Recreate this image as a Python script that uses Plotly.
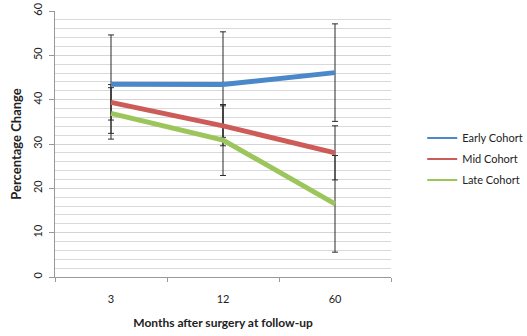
import plotly.graph_objects as go

months = ["3", "12", "60"]
series_names = ["Early Cohort", "Mid Cohort", "Late Cohort"]
early = [43.5, 43.4, 46.1]
mid = [39.4, 34.1, 28.0]
late = [36.9, 30.9, 16.5]
early_err = [11.1, 11.9, 11.0]
mid_err = [4.0, 4.5, 6.1]
late_err = [5.8, 8.0, 10.9]
colors = ["#4A88CA", "#CD5C58", "#9CC65B"]

values = [early, mid, late]
errors = [early_err, mid_err, late_err]

FONT = "Lato, 'Open Sans', Arial, sans-serif"

fig = go.Figure()
# error bars first so the lines sit on top of them
for name, vals, errs in zip(series_names, values, errors):
    fig.add_trace(go.Scatter(
        x=months, y=vals, mode="markers", showlegend=False, hoverinfo="skip",
        marker=dict(size=1, opacity=0),
        error_y=dict(type="data", array=errs, visible=True, color="#2b2b2b",
                     thickness=1, width=3),
    ))
for name, vals, col in zip(series_names, values, colors):
    fig.add_trace(go.Scatter(
        x=months, y=vals, mode="lines", name=name, showlegend=False,
        line=dict(color=col, width=5),
    ))
# legend entries with thin sample lines (as in the reference)
for name, col in zip(series_names, colors):
    fig.add_trace(go.Scatter(
        x=[None], y=[None], mode="lines", name=name, legendgroup=name,
        line=dict(color=col, width=2),
    ))

fig.update_layout(
    width=527, height=336,
    margin=dict(l=55, r=136, t=11, b=59, autoexpand=False),
    paper_bgcolor="white", plot_bgcolor="white",
    font=dict(family=FONT, size=11, color="#222"),
    legend=dict(x=1.093, y=0.444, xanchor="left", yanchor="middle",
                font=dict(size=11, color="#222"), itemwidth=30,
                traceorder="grouped", tracegroupgap=2),
)
fig.update_xaxes(
    type="category", range=[-0.5, 2.5], automargin=False,
    showline=True, linecolor="#999", linewidth=1,
    showgrid=False, ticks="outside", tickson="boundaries",
    ticklen=4, tickcolor="#999", ticklabelstandoff=12,
    title=dict(text="<b>Months after surgery at follow-up</b>", standoff=14,
               font=dict(size=12)),
    tickfont=dict(size=11),
)
fig.update_yaxes(
    range=[0, 60], dtick=10, tickangle=-90, automargin=False,
    showline=True, linecolor="#999", linewidth=1,
    ticks="outside", ticklen=5, tickcolor="#999", ticklabelstandoff=3,
    showgrid=True, gridcolor="#d4d4d4", gridwidth=1,
    minor=dict(dtick=2, showgrid=True, gridcolor="#d9d9d9", gridwidth=1),
    zeroline=False,
    title=dict(text="<b>Percentage Change</b>", standoff=6, font=dict(size=13)),
    tickfont=dict(size=11),
)

# remove the browser's default 8px body margin so the figure fills the window
fig.write_html("out.html", config={"displayModeBar": False},
               post_script="document.body.style.margin='0';")
